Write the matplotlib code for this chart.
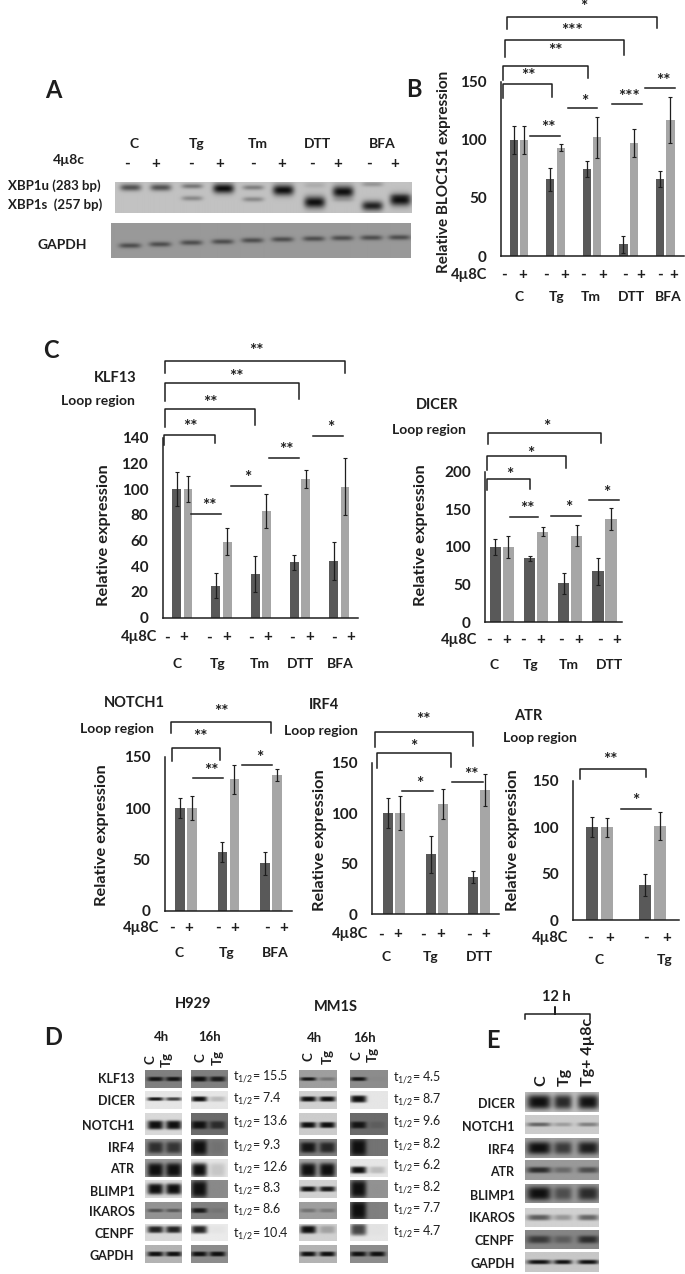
# Multi-panel figure: RT-PCR gels, qPCR bar charts and western blots
import numpy as np
import matplotlib
matplotlib.use("Agg")
import matplotlib.pyplot as plt

plt.rcParams['font.family'] = ['Lato', 'DejaVu Sans']
plt.rcParams['font.weight'] = 'bold'

# ---- bar chart values ----
bloc_dark = [100, 66, 75, 10, 66]
bloc_light = [100, 93, 102, 97, 117]
bloc_dark_err = [12, 10, 7, 7.5, 7]
bloc_light_err = [12, 3, 18, 12, 20]
bloc_ticks = [0, 50, 100, 150]

klf13_dark = [100, 25, 34, 43, 44]
klf13_light = [100, 59, 83, 108, 102]
klf13_dark_err = [13, 10, 14, 6, 15]
klf13_light_err = [10, 10.5, 13, 7, 22]
klf13_ticks = [0, 20, 40, 60, 80, 100, 120, 140]

dicer_dark = [100, 85, 52, 68]
dicer_light = [100, 120, 115, 137]
dicer_dark_err = [10, 3.5, 14, 18]
dicer_light_err = [15, 6, 14, 15]
dicer_ticks = [0, 50, 100, 150, 200]

notch1_dark = [100, 57, 46]
notch1_light = [100, 128, 132]
notch1_dark_err = [10, 10, 11]
notch1_light_err = [12, 14, 6]

irf4_dark = [100, 59, 37]
irf4_light = [100, 109, 123]
irf4_dark_err = [15, 18, 6]
irf4_light_err = [17, 15, 16]

atr_dark = [100, 38]
atr_light = [100, 101]
atr_dark_err = [11, 12]
atr_light_err = [10, 15]
short_ticks = [0, 50, 100, 150]

# ---- gel / blot band strengths ----
gel_unspliced = [.62, .62, .42, 1, .38, 1, .12, 1, .25, .12]
gel_spliced = [0, 0, .32, 0, .32, 0, 1, .1, .9, 1]
gel_gapdh = [.55, .55, .55, .55, .55, .55, .55, .55, .55, .55]

blot_genes = ['KLF13', 'DICER', 'NOTCH1', 'IRF4', 'ATR', 'BLIMP1', 'IKAROS', 'CENPF', 'GAPDH']
h929_4h_bg = [.5, .9, .85, .55, .6, .85, .58, .85, .7]
h929_4h_c = [.95, .95, 1, .75, 1, 1, .5, .9, 1]
h929_4h_tg = [.95, .75, 1, .7, 1, 1, .45, .9, 1]
h929_16h_bg = [.5, .9, .42, .5, .9, .55, .5, .92, .55]
h929_16h_c = [1, 1, 1, 1, 1, 1, .9, .9, 1]
h929_16h_tg = [.9, .2, .7, .12, .15, .03, .1, .03, 1]
mm1s_4h_bg = [.62, .82, .8, .5, .65, .82, .62, .82, .7]
mm1s_4h_c = [.95, 1, 1, .95, 1, 1, .3, 1, 1]
mm1s_4h_tg = [.3, 1, 1, .8, 1, .95, .25, .25, 1]
mm1s_16h_bg = [.55, .9, .42, .45, .9, .58, .5, .9, .55]
mm1s_16h_c = [.95, 1, .95, 1, 1, 1, 1, .75, 1]
mm1s_16h_tg = [.03, 0, .15, 0, .2, .02, 0, .02, 1]
h929_half_life = ['15.5', '7.4', '13.6', '9.3', '12.6', '8.3', '8.6', '10.4']
mm1s_half_life = ['4.5', '8.7', '9.6', '8.2', '6.2', '8.2', '7.7', '4.7']

e_genes = ['DICER', 'NOTCH1', 'IRF4', 'ATR', 'BLIMP1', 'IKAROS', 'CENPF', 'GAPDH']
e_bg = [.75, .8, .62, .6, .6, .82, .52, .78]
e_c = [1, .55, 1, .8, 1, .6, .65, 1]
e_tg = [.85, .25, .7, .35, .55, .3, .35, 1]
e_tg_4u8c = [.98, .4, .9, .55, .8, .55, .75, 1]

DARK = '#595959'
LIGHT = '#a6a6a6'
INK = '#1e1e1e'

fig = plt.figure(figsize=(6.85, 12.74), dpi=100)
over = fig.add_axes([0, 0, 1, 1], zorder=5)
over.set_xlim(0, 685)
over.set_ylim(1274, 0)
over.axis('off')
over.patch.set_alpha(0)


def pos(origin, x, y):
    return origin[0] + x / origin[2], origin[1] + y / 3


def label(origin, x, y, s, size=10, **kw):
    px, py = pos(origin, x, y)
    kw.setdefault('ha', 'center')
    kw.setdefault('va', 'center')
    kw.setdefault('color', INK)
    over.text(px, py, s, fontsize=size, **kw)


def stars(origin, x, y, s):
    # asterisks sit high in the font, push them down a little
    label(origin, x, y + 7, s, size=12.5)


def bracket(origin, x1, x2, top, left, right, text, tx, ty):
    p = [pos(origin, x1, left), pos(origin, x1, top), pos(origin, x2, top), pos(origin, x2, right)]
    over.plot([q[0] for q in p], [q[1] for q in p], color=INK, lw=1.1)
    if text:
        stars(origin, tx, ty, text)


def sigline(origin, x1, x2, y, text, tx, ty):
    p = [pos(origin, x1, y), pos(origin, x2, y)]
    over.plot([q[0] for q in p], [q[1] for q in p], color=INK, lw=1.1)
    stars(origin, tx, ty, text)


def bar_panel(origin, axis_x, right, top, base, ymax, ticks, dark, light, dark_err, light_err,
              first_dark, first_light, gap, width):
    # the x data of these axes is in crop units, measured from the y axis
    x1, y1 = pos(origin, axis_x, top)
    x2, y2 = pos(origin, right, base)
    ax = fig.add_axes([x1 / 685, 1 - y2 / 1274, (x2 - x1) / 685, (y2 - y1) / 1274])
    idx = np.arange(len(dark))
    err_kw = dict(ecolor=INK, elinewidth=0.9, capsize=1.6, capthick=0.8)
    ax.bar(first_dark - axis_x + idx * gap, dark, width, color=DARK, yerr=dark_err, error_kw=err_kw)
    ax.bar(first_light - axis_x + idx * gap, light, width, color=LIGHT, yerr=light_err, error_kw=err_kw)
    ax.set_xlim(0, right - axis_x)
    ax.set_ylim(0, ymax)
    ax.set_xticks([])
    ax.set_yticks(ticks)
    ax.tick_params(axis='y', length=0, labelsize=11, pad=10.5, labelcolor=INK)
    ax.spines['top'].set_visible(False)
    ax.spines['right'].set_visible(False)
    ax.spines['left'].set_color(INK)
    ax.spines['bottom'].set_color(INK)
    ax.spines['left'].set_linewidth(1.1)
    ax.spines['bottom'].set_linewidth(1.1)
    ax.patch.set_alpha(0)
    return ax


def signs(origin, xs, y, label_right):
    label(origin, label_right, y, '4µ8C', size=10.5, ha='right')
    for i, x in enumerate(xs):
        label(origin, x, y, '-' if i % 2 == 0 else '+', size=11)


def blot(box, bg, lanes, centers, half_w, half_h, y_pow=4):
    # grey strip with soft dark bands drawn as an image
    x1, x2, y1, y2 = box
    w, h = int(x2 - x1) * 2, int(y2 - y1) * 2
    xx, yy = np.meshgrid(np.linspace(x1, x2, w), np.linspace(y1, y2, h))
    dark_map = np.zeros_like(xx)
    for strength, cx, cy, hw, hh in zip(lanes, centers[0], centers[1], half_w, half_h):
        dark_map += strength * np.exp(-(((xx - cx) / hw) ** 4 + np.abs((yy - cy) / hh) ** y_pow))
    img = bg * (1 - np.clip(dark_map, 0, 1)) + 0.06 * np.clip(dark_map, 0, 1)
    over.imshow(img, cmap='gray', vmin=0, vmax=1, extent=[x1, x2, y2, y1], aspect='auto',
                interpolation='bilinear')


# ---- panel A ----
ZA = (30, 0, 2.394)
label(ZA, 55, 270, 'A', size=17)
label(ZA, 918, 268, 'B', size=17)
for x, s in zip([250, 399, 546, 688, 843], ['C', 'Tg', 'Tm', 'DTT', 'BFA']):
    label(ZA, x, 433, s, size=10)
label(ZA, 92, 480, '4µ8c', size=10)
for i, x in enumerate([232, 302, 386, 455, 533, 603, 674, 736, 812, 873]):
    label(ZA, x, 492, '-' if i % 2 == 0 else '+', size=11)
label(ZA, 170, 558, 'XBP1u (283 bp)', size=9.5, ha='right')
label(ZA, 173, 613, 'XBP1s  (257 bp)', size=9.5, ha='right')
label(ZA, 77, 735, 'GAPDH', size=10)

lane_x = [pos(ZA, v, 0)[0] for v in [240, 312, 387, 462, 533, 605, 680, 748, 818, 885]]
u_y = [pos(ZA, 0, v)[1] for v in [562, 562, 558, 565, 562, 570, 555, 575, 552, 588]]
s_y = [pos(ZA, 0, v)[1] for v in [595, 595, 595, 595, 598, 598, 607, 600, 618, 600]]
g_y = [pos(ZA, 0, v)[1] for v in [737, 733, 728, 725, 721, 718, 716, 714, 713, 712]]
u_thick = [3.5, 3.5, 2.5, 5, 2.5, 5.5, 3, 6, 2.5, 2]
s_thick = [2, 2, 2.5, 2, 2.5, 2, 6, 2, 5, 6]
left, _ = pos(ZA, 203, 0)
right, _ = pos(ZA, 912, 0)
blot((left, right, 182, 213), 0.76, gel_unspliced + gel_spliced,
     (lane_x + lane_x, u_y + s_y), [10.5] * 20, u_thick + s_thick, y_pow=2)
left, _ = pos(ZA, 195, 0)
blot((left, right, 223, 258), 0.6, gel_gapdh, (lane_x, g_y), [11] * 10, [2.6] * 10, y_pow=2)

# ---- panel B ----
bar_panel(ZA, 1128, 1565, 245, 768, 150, bloc_ticks, bloc_dark, bloc_light, bloc_dark_err,
          bloc_light_err, 1158, 1183, 87.5, 20)
label(ZA, 990, 517, 'Relative BLOC1S1 expression', size=11, rotation=90)
signs(ZA, [1135, 1180, 1235, 1280, 1325, 1370, 1425, 1462, 1508, 1542], 825, 1095)
for x, s in zip([1172, 1260, 1343, 1440, 1527], ['C', 'Tg', 'Tm', 'DTT', 'BFA']):
    label(ZA, x, 890, s, size=10)
bracket(ZA, 1141, 1502, 52, 88, 85, '*', 1325, 15)
bracket(ZA, 1138, 1422, 120, 170, 165, '***', 1297, 85)
bracket(ZA, 1133, 1335, 198, 240, 235, '**', 1257, 145)
bracket(ZA, 1133, 1249, 252, 295, 290, '**', 1193, 220)
sigline(ZA, 1197, 1268, 408, '**', 1242, 378)
sigline(ZA, 1287, 1358, 325, '*', 1327, 300)
sigline(ZA, 1394, 1465, 313, '***', 1435, 285)
sigline(ZA, 1472, 1543, 264, '**', 1516, 235)

# ---- panel C, KLF13 and DICER ----
ZC = (30, 330, 2.394)
label(ZC, 50, 60, 'C', size=17)
label(ZC, 205, 145, 'KLF13', size=10.5)
label(ZC, 163, 213, 'Loop region', size=10)
bar_panel(ZC, 318, 785, 323, 863, 140, klf13_ticks, klf13_dark, klf13_light, klf13_dark_err,
          klf13_light_err, 351, 378, 94, 21)
label(ZC, 178, 615, 'Relative expression', size=11.8, rotation=90)
signs(ZC, [328, 368, 428, 470, 528, 568, 628, 670, 728, 768], 922, 305)
for x, s in zip([352, 449, 550, 647, 742], ['C', 'Tg', 'Tm', 'DTT', 'BFA']):
    label(ZC, x, 1002, s, size=10)
bracket(ZC, 323, 753, 92, 130, 128, '**', 543, 57)
bracket(ZC, 323, 645, 158, 212, 207, '**', 493, 135)
bracket(ZC, 322, 538, 238, 290, 285, '**', 433, 212)
bracket(ZC, 320, 443, 316, 345, 340, '**', 383, 285)
sigline(ZC, 385, 457, 552, '**', 430, 522)
sigline(ZC, 481, 553, 467, '*', 521, 437)
sigline(ZC, 571, 643, 384, '**', 614, 354)
sigline(ZC, 678, 750, 319, '*', 719, 288)

label(ZC, 975, 225, 'DICER', size=10.5)
label(ZC, 955, 300, 'Loop region', size=10)
bar_panel(ZC, 1090, 1418, 425, 877, 200, dicer_ticks, dicer_dark, dicer_light, dicer_dark_err,
          dicer_light_err, 1114, 1145, 82, 27)
label(ZC, 935, 615, 'Relative expression', size=11.8, rotation=90)
signs(ZC, [1098, 1140, 1180, 1222, 1272, 1314, 1364, 1405], 930, 1070)
for x, s in zip([1111, 1198, 1290, 1388], ['C', 'Tg', 'Tm', 'DTT']):
    label(ZC, x, 1006, s, size=10)
bracket(ZC, 1096, 1367, 310, 343, 340, '*', 1237, 285)
bracket(ZC, 1094, 1284, 378, 420, 415, '*', 1198, 365)
bracket(ZC, 1094, 1196, 446, 480, 478, '*', 1148, 428)
sigline(ZC, 1150, 1215, 562, '**', 1192, 530)
sigline(ZC, 1248, 1320, 558, '*', 1291, 528)
sigline(ZC, 1338, 1410, 511, '*', 1381, 482)

# ---- panel C, NOTCH1, IRF4 and ATR ----
ZR = (60, 690, 2.496)
label(ZR, 185, 38, 'NOTCH1', size=10.5)
label(ZR, 142, 118, 'Loop region', size=10)
bar_panel(ZR, 262, 580, 200, 662, 150, short_ticks, notch1_dark, notch1_light, notch1_dark_err,
          notch1_light_err, 300, 330, 105.5, 24)
label(ZR, 105, 435, 'Relative expression', size=11.8, rotation=90)
signs(ZR, [280, 322, 394, 436, 516, 558], 713, 248)
for x, s in zip([298, 415, 537], ['C', 'Tg', 'BFA']):
    label(ZR, x, 788, s, size=10)
bracket(ZR, 278, 527, 97, 130, 128, '**', 403, 58)
bracket(ZR, 279, 400, 173, 213, 210, '**', 350, 135)
sigline(ZR, 332, 408, 263, '**', 378, 237)
sigline(ZR, 455, 530, 226, '*', 498, 197)

label(ZR, 658, 45, 'IRF4', size=10.5)
label(ZR, 652, 122, 'Loop region', size=10)
bar_panel(ZR, 780, 1095, 218, 672, 150, short_ticks, irf4_dark, irf4_light, irf4_dark_err,
          irf4_light_err, 818, 848, 107, 25)
label(ZR, 648, 450, 'Relative expression', size=11.8, rotation=90)
signs(ZR, [802, 843, 906, 949, 1020, 1062], 733, 770)
for x, s in zip([815, 925, 1048], ['C', 'Tg', 'DTT']):
    label(ZR, x, 800, s, size=10)
bracket(ZR, 785, 1030, 127, 170, 168, '**', 908, 82)
bracket(ZR, 791, 975, 190, 235, 232, '*', 884, 165)
sigline(ZR, 853, 930, 304, '*', 897, 274)
sigline(ZR, 979, 1055, 277, '**', 1027, 247)

label(ZR, 1168, 78, 'ATR', size=10.5)
label(ZR, 1198, 145, 'Loop region', size=10)
bar_panel(ZR, 1281, 1545, 272, 691, 150, short_ticks, atr_dark, atr_light, atr_dark_err,
          atr_light_err, 1329, 1366, 131, 30)
label(ZR, 1130, 450, 'Relative expression', size=11.8, rotation=90)
signs(ZR, [1322, 1373, 1463, 1514], 743, 1268)
for x, s in zip([1345, 1510], ['C', 'Tg']):
    label(ZR, x, 810, s, size=10)
bracket(ZR, 1297, 1462, 238, 267, 262, '**', 1373, 202)
sigline(ZR, 1400, 1476, 356, '*', 1437, 327)

# ---- panel D, western blots ----
ZD = (30, 990, 2.394)
label(ZD, 55, 143, 'D', size=17)
label(ZD, 390, 43, 'H929', size=10.5)
label(ZD, 733, 50, 'MM1S', size=10.5)
for x, y, s in [(315, 140, '4h'), (429, 140, '16h'), (680, 143, '4h'), (801, 143, '16h')]:
    label(ZD, x, y, s, size=9.5)
for x, y, s in [(288, 210, 'C'), (328, 208, 'Tg'), (408, 203, 'C'), (450, 203, 'Tg'),
                (667, 200, 'C'), (712, 198, 'Tg'), (782, 197, 'C'), (820, 195, 'Tg')]:
    label(ZD, x, y, s, size=9.5, rotation=90)

row_top = [240, 305, 370, 447, 510, 573, 636, 702, 766]
row_bot = [293, 358, 435, 498, 562, 625, 686, 752, 818]
row_label_y = [268, 333, 408, 475, 538, 605, 665, 733, 797]
row_shift = [0, -1, 1, 0, 2, 0, 0, -3, 0]
h4_thick = [2.2, 1.8, 4.5, 6, 7, 5.5, 1.8, 3.5, 2.4]
h16_thick = [2.6, 2.6, 4, 8, 7, 8.5, 2.5, 4, 2.4]
m4_thick = [1.8, 2.6, 3, 5.5, 7, 2.6, 2, 4, 2.4]
m16_thick = [2, 3.6, 3.5, 9, 3.5, 9, 10, 6, 2.4]
columns = [(275, 362, h929_4h_bg, h929_4h_c, h929_4h_tg, h4_thick, .28, .78),
           (386, 474, h929_16h_bg, h929_16h_c, h929_16h_tg, h16_thick, .22, .72),
           (645, 734, mm1s_4h_bg, mm1s_4h_c, mm1s_4h_tg, m4_thick, .24, .75),
           (767, 856, mm1s_16h_bg, mm1s_16h_c, mm1s_16h_tg, m16_thick, .22, .72)]
for col_l, col_r, bg, c_band, tg_band, thick, f1, f2 in columns:
    for r in range(len(blot_genes)):
        x1, y1 = pos(ZD, col_l, row_top[r])
        x2, y2 = pos(ZD, col_r, row_bot[r])
        cy = (y1 + y2) / 2 + row_shift[r]
        blot((x1, x2, y1, y2), bg[r], [c_band[r], tg_band[r]],
             ([x1 + f1 * (x2 - x1), x1 + f2 * (x2 - x1)], [cy, cy]), [8, 8], [thick[r]] * 2)

for gene, y in zip(blot_genes, row_label_y):
    label(ZD, 250, y, gene, size=9, ha='right')
for val, y in zip(h929_half_life, [260, 325, 396, 468, 533, 597, 660, 730]):
    label(ZD, 485, y, r'$\mathregular{t_{1/2}}$= ' + val, size=9, ha='left', fontweight='normal')
for val, y in zip(mm1s_half_life, [264, 330, 396, 463, 528, 592, 657, 725]):
    label(ZD, 868, y, r'$\mathregular{t_{1/2}}$= ' + val, size=9, ha='left', fontweight='normal')

# ---- panel E ----
label(ZD, 1108, 150, 'E', size=17)
label(ZD, 1260, 22, '12 h', size=10.5)
bracket(ZD, 1185, 1340, 73, 88, 88, '', 0, 0)
bracket(ZD, 1258, 1258, 50, 73, 73, '', 0, 0)
label(ZD, 1225, 288, 'C', size=11.5, rotation=90, va='bottom')
label(ZD, 1280, 288, 'Tg', size=11.5, rotation=90, va='bottom')
label(ZD, 1335, 288, 'Tg+ 4µ8c', size=11.5, rotation=90, va='bottom')

e_top = [307, 377, 443, 512, 584, 653, 721, 788]
e_bot = [367, 432, 503, 570, 640, 710, 778, 846]
e_label_y = [343, 410, 480, 547, 617, 685, 752, 822]
e_thick = [7.5, 2, 6.5, 3, 7, 3, 4, 2.2]
for r in range(len(e_genes)):
    x1, y1 = pos(ZD, 1185, e_top[r])
    x2, y2 = pos(ZD, 1360, e_bot[r])
    cy = (y1 + y2) / 2
    lanes = [pos(ZD, v, 0)[0] for v in [1218, 1275, 1335]]
    blot((x1, x2, y1, y2), e_bg[r], [e_c[r], e_tg[r], e_tg_4u8c[r]],
         (lanes, [cy] * 3), [12, 9, 10.5], [e_thick[r]] * 3, y_pow=3)
    label(ZD, 1160, e_label_y[r], e_genes[r], size=9, ha='right')

over.set_xlim(0, 685)
over.set_ylim(1274, 0)
fig.savefig('out.png', dpi=100)
